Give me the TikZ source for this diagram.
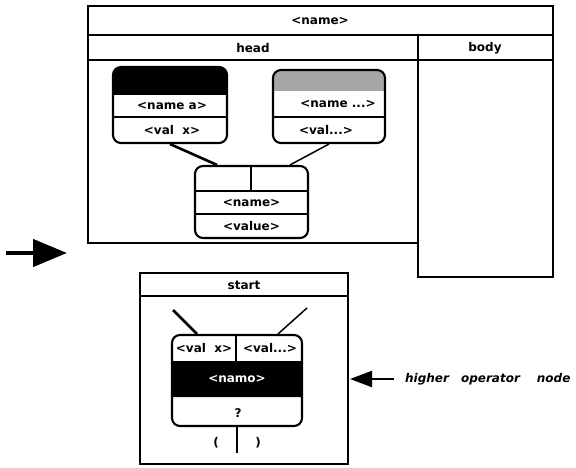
\documentclass[tikz,border=0pt]{standalone}
\usepackage{fontspec}
\setmainfont{DejaVu Sans}
\usetikzlibrary{arrows.meta,calc}
\begin{document}
\begin{tikzpicture}[x=1pt,y=-1pt,
  lbl/.style={font=\fontsize{12}{14}\selectfont\bfseries, inner sep=0pt},
  frame/.style={draw, line width=2.6pt},
  rnode/.style={draw, line width=2.1pt, rounded corners=8pt, inner sep=0pt},
  sep/.style={line width=1.5pt},
  thickcon/.style={line width=2.6pt},
  thincon/.style={line width=1.5pt},
]
\useasboundingbox (0,0) rectangle (576,468);

% ---------- upper frame ----------
\draw[frame] (88,6) rectangle (553,35);
\draw[frame] (88,35) rectangle (418,60);
\draw[frame] (418,35) rectangle (553,60);
\draw[frame] (88,60) rectangle (418,243);
\draw[frame] (418,60) rectangle (553,277);
\node[lbl] (tname) at (320,21) {<name>};
\node[lbl] (thead) at (253,48) {head};
\node[lbl] (tbody) at (485,48) {body};

% ---------- node A ----------
\node[rnode, minimum width=114, minimum height=76,
  path picture={\fill[black] (-70,-50) rectangle (70,-10);
                \draw[sep] (-70,12) -- (70,12);}] (A) at (170,105) {};
\node[lbl] (Aname) at (172,106) {<name a>};
\node[lbl] (Aval) at (172,130) {<val\ \ x>};

% ---------- node B ----------
\node[rnode, minimum width=112, minimum height=73,
  path picture={\fill[gray!70] (-70,-50) rectangle (70,-15.5);
                \draw[sep] (-70,10.5) -- (70,10.5);}] (B) at (329,106.5) {};
\node[lbl] (Bname) at (338,104) {<name ...>};
\node[lbl] (Bval) at (326,130) {<val...>};

% ---------- node C ----------
\node[rnode, minimum width=113, minimum height=72,
  path picture={\draw[sep] (-70,-11) -- (70,-11);
                \draw[sep] (-70,12) -- (70,12);
                \draw[sep] (-0.5,-50) -- (-0.5,-11);}] (C) at (251.5,202) {};
\node[lbl] (Cname) at (251.5,203) {<name>};
\node[lbl] (Cval) at (251.5,226) {<value>};

\coordinate (CinL) at ($(C.north)+(-34.5,0)$);
\coordinate (CinR) at ($(C.north)+(38.5,0)$);
\draw[thickcon] (A.south) -- (CinL);
\draw[thincon] (B.south) -- (CinR);

% ---------- left arrow ----------
\coordinate (arrL) at (6,253);
\coordinate (arrR) at (67,253);
\draw[line width=4.5pt, -{Triangle[length=34pt,width=27pt]}] (arrL) -- (arrR);

% ---------- start frame ----------
\draw[frame] (140,273) rectangle (348,296);
\draw[frame] (140,296) rectangle (348,464);
\node[lbl] (tstart) at (244,285) {start};

% ---------- node D ----------
\node[rnode, minimum width=130, minimum height=91,
  path picture={\fill[black] (-80,-19.5) rectangle (80,16.5);
                \draw[sep] (-1,-60) -- (-1,-19.5);}] (D) at (237,380.5) {};
\node[lbl] (Dvx) at (204,348) {<val\ \ x>};
\node[lbl] (Dvd) at (270,348) {<val...>};
\node[lbl, text=white] (Dname) at (237,379) {<namo>};
\node[lbl] (Dq) at (238,413) {?};

\coordinate (DtopL) at (173,310);
\coordinate (DtopR) at (307,308);
\draw[thickcon] (DtopL) -- ($(D.north)+(-40,0)$);
\draw[thincon] (DtopR) -- ($(D.north)+(41,0)$);
\coordinate (Dstem) at (237,453);
\draw[sep] (D.south) -- (Dstem);
\node[lbl] (lpar) at (216,443) {(};
\node[lbl] (rpar) at (258,443) {)};

% ---------- right arrow + label ----------
\node[font=\fontsize{12}{14}\selectfont\bfseries\itshape, inner sep=0pt, anchor=west]
  (hon) at (405,379) {higher\hspace{12pt}operator\hspace{17pt}node};
\coordinate (arrS) at (394,379);
\coordinate (boxR) at (350,379);
\draw[line width=2.2pt, -{Triangle[length=22pt,width=16pt]}] (arrS) -- (boxR);
\end{tikzpicture}
\end{document}
